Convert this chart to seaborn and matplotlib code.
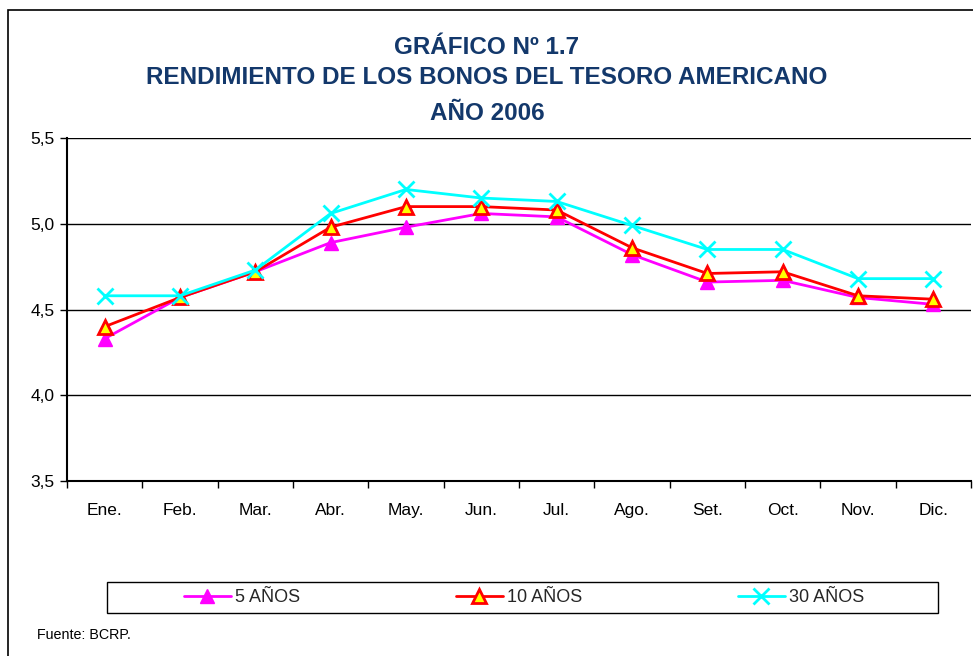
import matplotlib
matplotlib.use("Agg")
import matplotlib.pyplot as plt
from matplotlib.patches import Rectangle
from matplotlib.ticker import FixedLocator, FixedFormatter
import seaborn as sns
import pandas as pd
import numpy as np

months = ["Ene.", "Feb.", "Mar.", "Abr.", "May.", "Jun.", "Jul.", "Ago.", "Set.", "Oct.", "Nov.", "Dic."]
y5 = [4.33, 4.57, 4.72, 4.89, 4.98, 5.06, 5.04, 4.82, 4.66, 4.67, 4.57, 4.53]
y10 = [4.40, 4.57, 4.72, 4.98, 5.10, 5.10, 5.08, 4.86, 4.71, 4.72, 4.58, 4.56]
y30 = [4.58, 4.58, 4.73, 5.06, 5.20, 5.15, 5.13, 4.99, 4.85, 4.85, 4.68, 4.68]
series_names = ["5 AÑOS", "10 AÑOS", "30 AÑOS"]
y_ticks = [3.5, 4.0, 4.5, 5.0, 5.5]
y_tick_labels = ["3,5", "4,0", "4,5", "5,0", "5,5"]
title_lines = ["GRÁFICO Nº 1.7", "RENDIMIENTO DE LOS BONOS DEL TESORO AMERICANO", "AÑO 2006"]
source = "Fuente: BCRP."

sns.set_theme(style="white")
plt.rcParams["font.family"] = ["Liberation Sans", "DejaVu Sans"]

df = pd.DataFrame({
    "x": list(range(len(months))) * 3,
    "valor": y5 + y10 + y30,
    "serie": [series_names[0]] * 12 + [series_names[1]] * 12 + [series_names[2]] * 12,
})

fig = plt.figure(figsize=(9.73, 6.56), dpi=100)
ax = fig.add_axes([67 / 973, 1 - 481 / 656, (971 - 67) / 973, (481 - 138) / 656])

styles = {
    series_names[0]: dict(color="#FF00FF", marker="^", markersize=10, markerfacecolor="#FF00FF",
                          markeredgecolor="#FF00FF", markeredgewidth=1),
    series_names[1]: dict(color="#FF0000", marker="^", markersize=10, markerfacecolor="#FFFF00",
                          markeredgecolor="#FF0000", markeredgewidth=2),
    series_names[2]: dict(color="#00FFFF", marker="x", markersize=11, markeredgecolor="#00FFFF",
                          markeredgewidth=2),
}
for name in series_names:
    sub = df[df["serie"] == name]
    sns.lineplot(data=sub, x="x", y="valor", ax=ax, linewidth=2, label=name,
                 legend=False, **styles[name])

ax.set_xlim(-0.5, len(months) - 0.5)
ax.set_ylim(3.5, 5.5)
ax.set_xlabel("")
ax.set_ylabel("")

ax.yaxis.set_major_locator(FixedLocator(y_ticks))
ax.yaxis.set_major_formatter(FixedFormatter(y_tick_labels))
ax.xaxis.set_major_locator(FixedLocator(list(range(len(months)))))
ax.xaxis.set_major_formatter(FixedFormatter(months))
ax.xaxis.set_minor_locator(FixedLocator(list(np.arange(-0.5, len(months), 1.0))))
ax.tick_params(axis="x", which="major", length=0, pad=16, labelsize=12.5, colors="black")
ax.tick_params(axis="x", which="minor", length=5, width=1, direction="out", color="black", bottom=True)
ax.tick_params(axis="y", which="major", length=5, width=1, direction="out", pad=4, labelsize=12.5,
               colors="black", left=True)

ax.grid(axis="y", color="black", linewidth=1)
ax.set_axisbelow(True)
ax.spines["right"].set_visible(False)
ax.spines["top"].set_visible(False)
ax.spines["left"].set_color("black")
ax.spines["left"].set_linewidth(1.5)
ax.spines["bottom"].set_color("black")
ax.spines["bottom"].set_linewidth(1.5)

# title (three centred lines)
for line, yc in zip(title_lines, [48, 77, 113]):
    fig.text(487 / 973, 1 - yc / 656, line, ha="center", va="center", fontsize=17.5,
             fontweight="bold", color="#13386B")

# outer frame
fig.patches.append(Rectangle((8 / 973, -0.1), 1.2, 1 - 10 / 656 + 0.1, transform=fig.transFigure,
                             fill=False, edgecolor="black", linewidth=1.2, clip_on=False))

# legend box
fig.patches.append(Rectangle((107 / 973, 1 - 613 / 656), (938 - 107) / 973, 31 / 656,
                             transform=fig.transFigure, fill=False, edgecolor="black", linewidth=1))
handles, labels = ax.get_legend_handles_labels()
fig.legend(handles, labels, loc="center left", bbox_to_anchor=(184 / 973, 1 - 597.5 / 656),
           ncol=3, frameon=False, fontsize=13, handlelength=2.6, handletextpad=0.25,
           columnspacing=8.6, borderpad=0, borderaxespad=0)

fig.text(37 / 973, 1 - 635 / 656, source, ha="left", va="center", fontsize=10.3, color="black")

fig.savefig("out.png", dpi=100)
